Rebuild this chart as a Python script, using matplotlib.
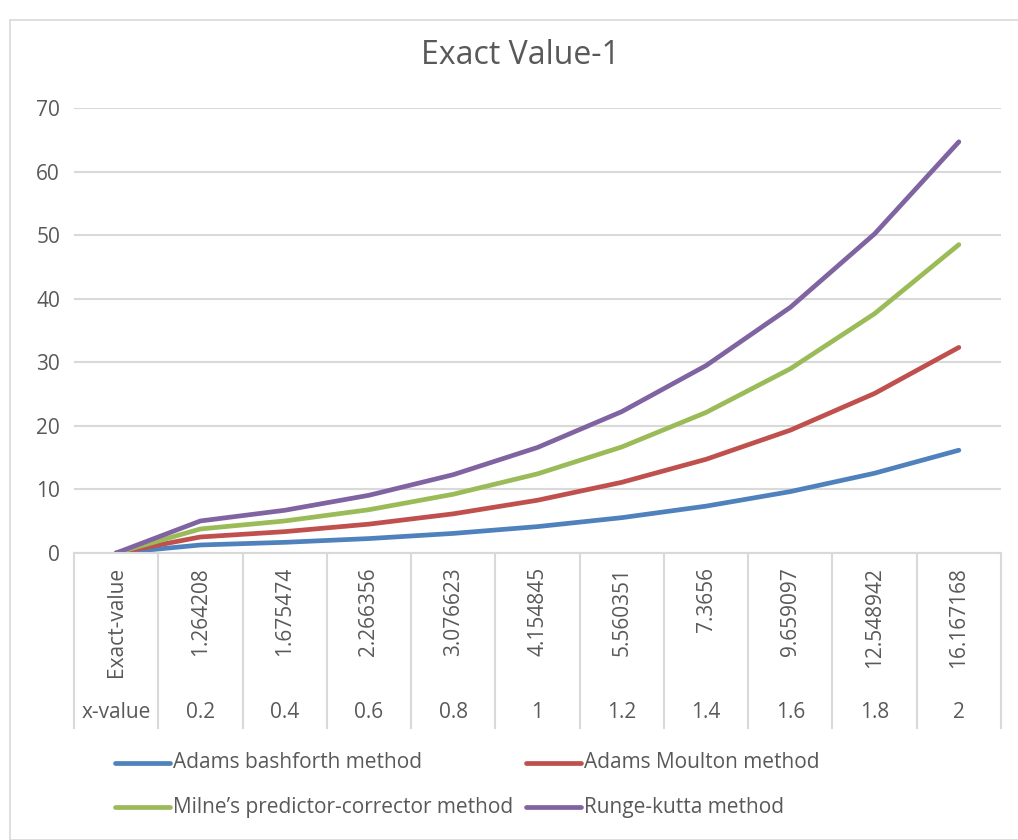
import matplotlib
matplotlib.use("Agg")
import matplotlib.pyplot as plt
import numpy as np
from matplotlib.lines import Line2D
from matplotlib.patches import Rectangle

# ---- data ----
x_values = ["x-value", "0.2", "0.4", "0.6", "0.8", "1", "1.2", "1.4", "1.6", "1.8", "2"]
exact_labels = ["Exact-value", "1.264208", "1.675474", "2.266356", "3.076623", "4.154845",
                "5.560351", "7.3656", "9.659097", "12.548942", "16.167168"]
series_names = ["Adams bashforth method", "Adams Moulton method",
                "Milne\u2019s predictor-corrector method", "Runge-kutta method"]
adams_bashforth = [0, 1.26, 1.68, 2.27, 3.08, 4.15, 5.56, 7.37, 9.66, 12.55, 16.17]
adams_moulton   = [0, 1.26, 1.68, 2.27, 3.08, 4.15, 5.56, 7.37, 9.66, 12.55, 16.17]
milne           = [0, 1.26, 1.68, 2.27, 3.08, 4.15, 5.56, 7.37, 9.66, 12.55, 16.17]
runge_kutta     = [0, 1.26, 1.68, 2.27, 3.08, 4.15, 5.56, 7.37, 9.66, 12.55, 16.17]
colors = ["#4F81BD", "#C0504D", "#9BBB59", "#8064A2"]
yticks = [0, 10, 20, 30, 40, 50, 60, 70]

FONT = "Open Sans"
TXT = "#595959"
FS = 15
W, H = 1018, 840
fig = plt.figure(figsize=(W / 100, H / 100), dpi=100)
fig.patch.set_facecolor("white")

# chart border
fig.add_artist(Rectangle((10 / W, 0), 1.2, 1 - 20 / H, transform=fig.transFigure,
                         fill=False, edgecolor="#D9D9D9", linewidth=1.2))

L, R, T, B = 74, 1001, 108, 553
ax = fig.add_axes([L / W, 1 - B / H, (R - L) / W, (B - T) / H])
n = len(x_values)
xs = np.arange(n)
stack = np.cumsum(np.array([adams_bashforth, adams_moulton, milne, runge_kutta]), axis=0)
for i in range(4):
    ax.plot(xs, stack[i], color=colors[i], lw=3.4, solid_capstyle="round",
            solid_joinstyle="round", zorder=3 + i)

ax.set_xlim(-0.5, n - 0.5)
ax.set_ylim(0, 70)
ax.set_yticks(yticks)
ax.set_yticklabels([str(v) for v in yticks], fontsize=FS, color=TXT, family=FONT)
ax.tick_params(axis="y", length=0, pad=10)
ax.set_xticks([])
ax.yaxis.grid(True, color="#D9D9D9", lw=1.5)
ax.set_axisbelow(True)
for s in ax.spines.values():
    s.set_visible(False)

# category axis table
def fy(py):
    return 1 - py / H

fig.add_artist(Line2D([L / W, R / W], [fy(B), fy(B)], color="#D9D9D9", lw=1.5))
for k in range(n + 1):
    xf = (L + k * (R - L) / n) / W
    fig.add_artist(Line2D([xf, xf], [fy(B), fy(728)], color="#D9D9D9", lw=1.5))
for k in range(n):
    xc = (L + (k + 0.5) * (R - L) / n) / W
    fig.text(xc, fy(567), exact_labels[k], rotation=90, ha="center", va="top",
             fontsize=FS, color=TXT, family=FONT)
    fig.text(xc, fy(713), x_values[k], ha="center", va="center",
             fontsize=FS, color=TXT, family=FONT)

fig.text(520 / W, fy(55), "Exact Value-1", ha="center", va="center",
         fontsize=23, color=TXT, family=FONT)

# legend
leg_pos = [(115, 763), (526, 763), (115, 807), (526, 807)]
for i, (lx, ly) in enumerate(leg_pos):
    fig.add_artist(Line2D([lx / W, (lx + 55) / W], [fy(ly), fy(ly)], color=colors[i],
                          lw=3.4, solid_capstyle="round"))
    fig.text((lx + 58) / W, fy(ly), series_names[i], ha="left", va="center",
             fontsize=FS, color=TXT, family=FONT)

fig.savefig("out.png", dpi=100, facecolor="white")
